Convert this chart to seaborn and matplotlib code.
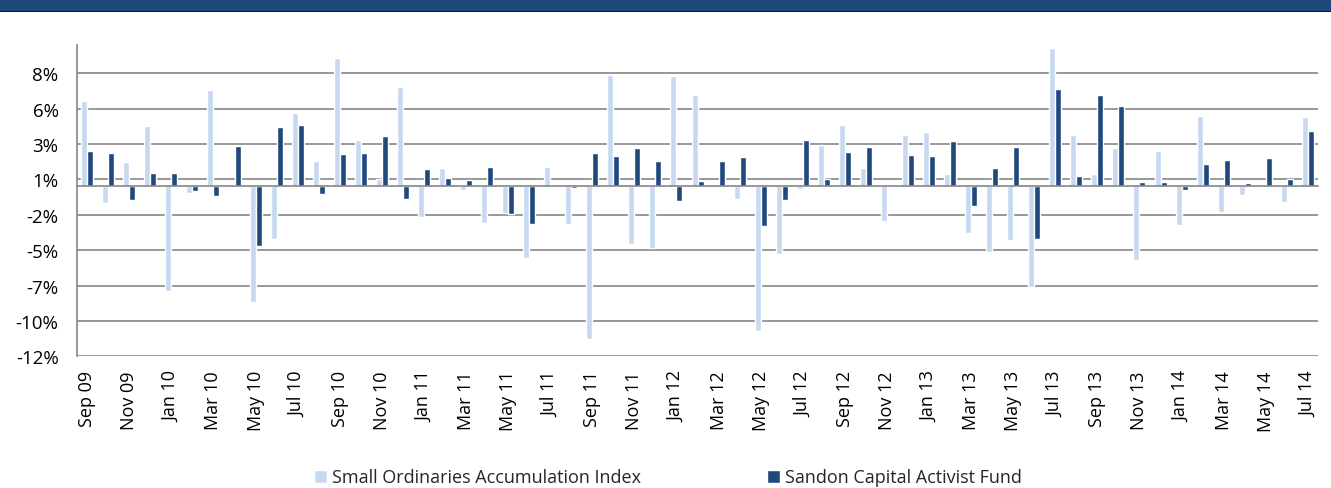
import numpy as np
import pandas as pd
import seaborn as sns
import matplotlib.pyplot as plt
from matplotlib.patches import Rectangle
from matplotlib.ticker import FixedLocator

# Monthly returns (%), Sep 09 - Jul 14
months = pd.date_range("2009-09-01", periods=59, freq="MS").strftime("%b %y").tolist()

small_ords = [6.05, -1.18, 1.74, 4.28, -7.41, -0.47, 6.82, 0.0, -8.16, -3.74,
              5.2, 1.79, 9.08, 3.29, 0.49, 7.04, -2.19, 1.27, -0.28, -2.61,
              -1.86, -5.08, 1.39, -2.68, -10.75, 7.9, -4.09, -4.35, 7.81, 6.47,
              0.19, -0.92, -10.21, -4.78, -0.19, 2.92, 4.35, 1.29, -2.42, 3.6,
              3.84, 0.87, -3.32, -4.64, -3.81, -7.13, 9.79, 3.65, 0.89, 2.73,
              -5.22, 2.52, -2.75, 4.96, -1.79, -0.61, 0.05, -1.11, 4.92]

sandon = [2.47, 2.35, -0.94, 0.96, 0.96, -0.33, -0.66, 2.85, -4.24, 4.19,
          4.35, -0.54, 2.26, 2.38, 3.55, -0.87, 1.25, 0.59, 0.47, 1.34,
          -1.93, -2.66, 0.0, -0.1, 2.35, 2.12, 2.73, 1.81, -1.04, 0.4,
          1.76, 2.09, -2.82, -0.94, 3.27, 0.52, 2.45, 2.78, 0.0, 2.21,
          2.14, 3.22, -1.41, 1.29, 2.78, -3.72, 6.89, 0.73, 6.45, 5.67,
          0.28, 0.31, -0.28, 1.6, 1.86, 0.26, 2.02, 0.52, 3.91]

series_names = ["Small Ordinaries Accumulation Index", "Sandon Capital Activist Fund"]
yticks = [-12, -9.5, -7, -4.5, -2, 0.5, 3, 5.5, 8]
ytick_labels = ["-12%", "-10%", "-7%", "-5%", "-2%", "1%", "3%", "6%", "8%"]

df = pd.DataFrame({
    "Month": months * 2,
    "Return": small_ords + sandon,
    "Series": [series_names[0]] * len(months) + [series_names[1]] * len(months),
})

sns.set_theme(style="white")
plt.rcParams["font.family"] = ["Open Sans", "DejaVu Sans"]

grid_col = "#868686"
fig = plt.figure(figsize=(13.31, 4.89), dpi=100)
ax = fig.add_axes([0.0576, 0.2693, 0.9329, 0.637])

sns.barplot(data=df, x="Month", y="Return", hue="Series",
            palette=["#C6D9F1", "#1F497D"], saturation=1,
            width=0.57, gap=0, ax=ax)

ax.set_ylim(-12, 10)
ax.set_yticks(yticks, ytick_labels)
ax.yaxis.grid(True, color=grid_col, lw=1.2)
ax.set_axisbelow(True)
ax.tick_params(axis="y", length=5, width=1.2, color=grid_col, direction="out",
               labelsize=13.5, pad=8, labelcolor="black")
ax.set_xlabel("")
ax.set_ylabel("")

for s in ["top", "right"]:
    ax.spines[s].set_visible(False)
ax.spines["left"].set_color(grid_col)
ax.spines["left"].set_linewidth(1.2)
ax.spines["bottom"].set_position(("data", 0))
ax.spines["bottom"].set_color(grid_col)
ax.spines["bottom"].set_linewidth(1.2)

# tick marks between categories on the zero line
ax.tick_params(axis="x", which="major", length=0, labelbottom=False)
ax.xaxis.set_minor_locator(FixedLocator(np.arange(-0.5, len(months), 1)))
ax.tick_params(axis="x", which="minor", length=5, width=1.2, color=grid_col, direction="out")

# month labels at the bottom of the plot
sec = ax.secondary_xaxis("bottom")
sec.set_xticks(range(0, len(months), 2), months[::2], rotation=90)
sec.tick_params(length=0, labelsize=13, pad=10, labelcolor="black")
sec.spines["bottom"].set_visible(False)

handles, labels = ax.get_legend_handles_labels()
ax.get_legend().remove()
fig.legend(handles, labels, loc="center", bbox_to_anchor=(0.502, 1 - 478.5 / 489),
           ncol=2, frameon=False, fontsize=13, handlelength=0.7, handleheight=0.7,
           handletextpad=0.3, columnspacing=7, borderaxespad=0, borderpad=0)

# header band
fig.add_artist(Rectangle((0, 1 - 12 / 489), 1, 12 / 489, transform=fig.transFigure,
                         facecolor="#1F497D", edgecolor="none"))
fig.add_artist(Rectangle((0, 1 - 13 / 489), 1, 1.2 / 489, transform=fig.transFigure,
                         facecolor="#0a1a2e", edgecolor="none"))

fig.savefig("out.png", dpi=100)
